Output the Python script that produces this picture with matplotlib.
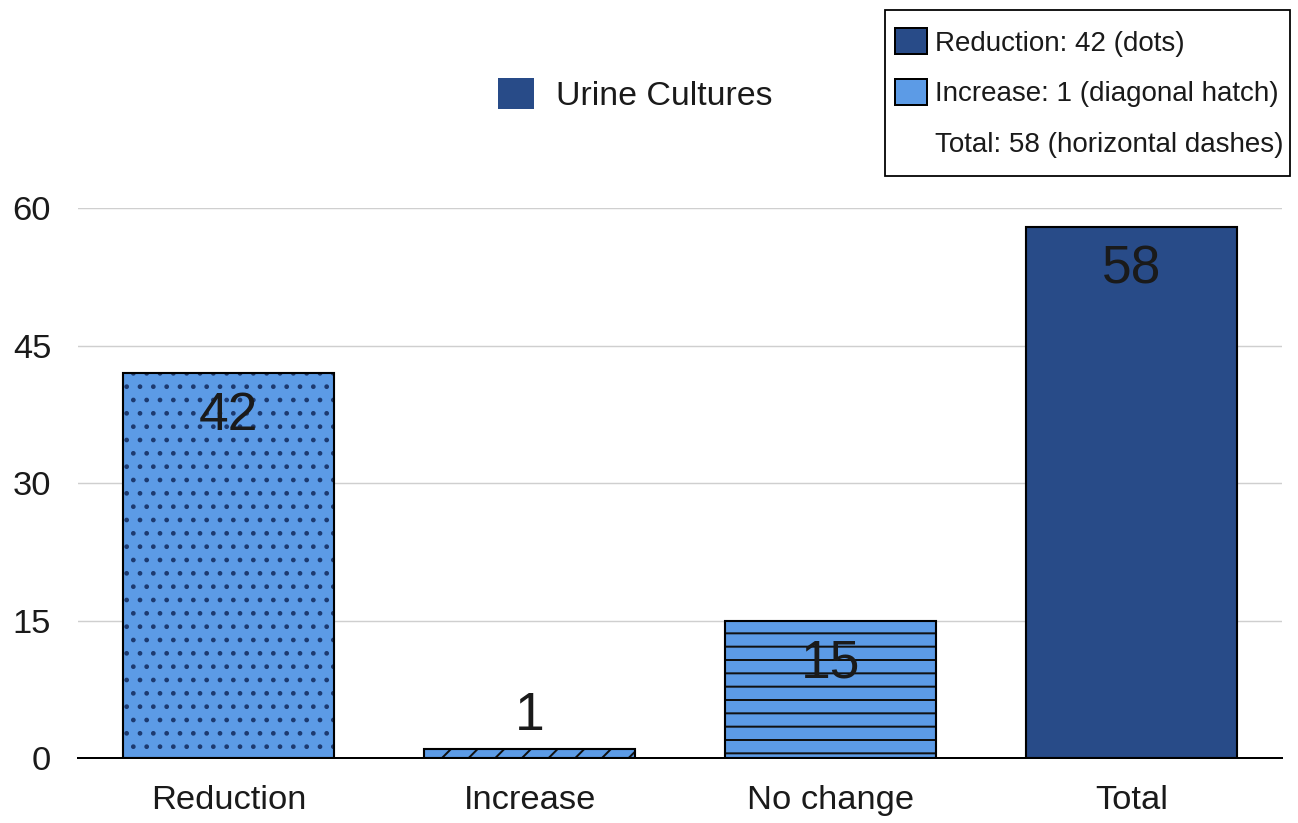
import matplotlib
matplotlib.use("Agg")
import matplotlib.pyplot as plt
from matplotlib.patches import Patch, Rectangle
import numpy as np

# Outcome categories and counts
CATEGORIES = ["Reduction", "Increase", "No change", "Total"]
COUNTS = [42, 1, 15, 58]

# Fill / hatch per bar
LIGHT_BLUE = "#5c9be6"
DARK_BLUE = "#284b88"
BAR_COLORS = [LIGHT_BLUE, LIGHT_BLUE, LIGHT_BLUE, DARK_BLUE]
BAR_HATCHES = [".", "/", "-", ""]
HATCH_COLORS = ["#1d3a70", "#111111", "#111111", DARK_BLUE]

Y_TICKS = [0, 15, 30, 45, 60]

# Text in the two legends
SERIES_NAME = "Urine Cultures"
NOTE_LABELS = [
    "Reduction: 42 (dots)",
    "Increase: 1 (diagonal hatch)",
    "Total: 58 (horizontal dashes)",
]

plt.rcParams.update({
    "font.family": ["Liberation Sans", "DejaVu Sans"],
    "hatch.linewidth": 1.8,
    "text.color": "#1a1a1a",
})

W, H, DPI = 1298, 823, 80
fig = plt.figure(figsize=(W / DPI, H / DPI), dpi=DPI, facecolor="white")
ax = fig.add_axes([0.060, 0.079, 0.928, 0.668])

x = np.arange(len(CATEGORIES))
width = 0.70

# hatch layer first (hatch takes the edge colour), then a black outline on top
ax.bar(x, COUNTS, width=width, color=BAR_COLORS, hatch=BAR_HATCHES,
       edgecolor=HATCH_COLORS, linewidth=0, zorder=2)
ax.bar(x, COUNTS, width=width, fill=False, edgecolor="black",
       linewidth=1.9, zorder=3)

# value labels just inside the top of each bar (above it when the bar is too short)
for xi, v in zip(x, COUNTS):
    if v > 8:
        ax.text(xi, v - 4.7, f"{v}", ha="center", va="center",
                fontsize=48, zorder=4)
    else:
        ax.text(xi, v + 0.8, f"{v}", ha="center", va="bottom",
                fontsize=48, zorder=4)

ax.set_xlim(-0.5, len(CATEGORIES) - 0.5)
ax.set_ylim(0, 60)
ax.set_yticks(Y_TICKS)
ax.set_xticks(x)
ax.set_xticklabels(CATEGORIES, fontsize=31)
ax.tick_params(axis="y", labelsize=31, length=0, pad=24, labelcolor="#1a1a1a")
ax.tick_params(axis="x", length=0, pad=24, labelcolor="#1a1a1a")

ax.grid(axis="y", color="#cfcfcf", linewidth=1.3, zorder=0)
ax.set_axisbelow(True)
for side in ["top", "right", "left"]:
    ax.spines[side].set_visible(False)
ax.spines["bottom"].set_color("black")
ax.spines["bottom"].set_linewidth(1.8)
ax.spines["bottom"].set_zorder(5)

# series legend centred above the plot
fig.legend(
    handles=[Patch(facecolor=DARK_BLUE, edgecolor="none")],
    labels=[SERIES_NAME],
    loc="center",
    bbox_to_anchor=(635 / W, 1 - 95 / H),
    frameon=False,
    fontsize=30.5,
    handlelength=1.05,
    handleheight=1.05,
    handletextpad=0.65,
)

# boxed note in the upper-right corner: plain legend plus a separate frame
note_handles = [
    Patch(facecolor=DARK_BLUE, edgecolor="black", linewidth=1.8),
    Patch(facecolor=LIGHT_BLUE, edgecolor="black", linewidth=1.8),
    Patch(facecolor="none", edgecolor="none"),
]
fig.legend(
    handles=note_handles,
    labels=NOTE_LABELS,
    loc="upper left",
    bbox_to_anchor=(895 / W, 1 - 28 / H),
    fontsize=25,
    frameon=False,
    handlelength=1.15,
    handleheight=1.08,
    handletextpad=0.3,
    labelspacing=0.8,
    borderpad=0,
    borderaxespad=0,
)
fig.add_artist(Rectangle(
    (885 / W, 1 - 176 / H), 405 / W, 166 / H,
    transform=fig.transFigure, facecolor="none", edgecolor="black",
    linewidth=1.6,
))

fig.savefig("out.png", dpi=DPI, facecolor="white")
